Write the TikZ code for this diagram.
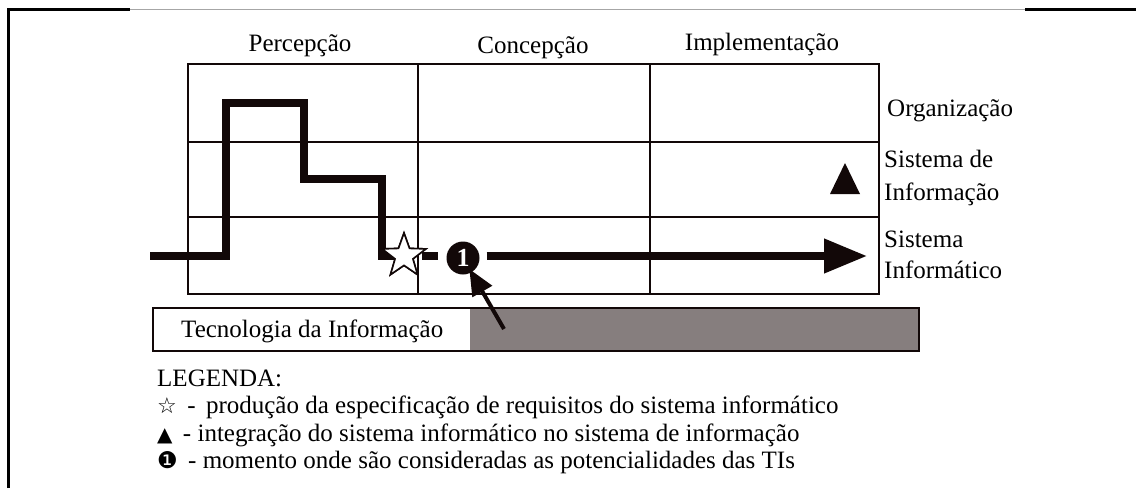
\documentclass[tikz,border=0pt]{standalone}
\usepackage{fontspec}
\setmainfont{Liberation Serif}
\newfontfamily\symfont{DejaVu Sans}
\usetikzlibrary{arrows.meta,shapes.geometric,calc}
\definecolor{tigray}{RGB}{134,126,126}
\definecolor{ink}{RGB}{18,8,8}
\begin{document}
\begin{tikzpicture}[x=1pt,y=-1pt,
  gridline/.style={draw=ink,line width=2.4pt},
  flow/.style={draw=ink,line width=7.5pt,line join=miter},
  lab/.style={font=\fontsize{25}{28}\selectfont,inner sep=0pt},
  leg/.style={font=\fontsize{25}{28}\selectfont,inner sep=0pt,anchor=base west},
  frameline/.style={draw=black,line width=3pt},
]
\useasboundingbox (0,0) rectangle (1136,488);
% outer frame
\draw[frameline] (8,488) -- (8,9.5) -- (130,9.5);
\draw[draw=black!35,line width=0.8pt] (130,9.5) -- (1025,9.5);
\draw[frameline] (1025,9.5) -- (1136,9.5);

% grid
\draw[gridline] (188,64) rectangle (879,294);
\draw[gridline] (418,64) -- (418,294);
\draw[gridline] (650,64) -- (650,294);
\draw[gridline] (188,142) -- (879,142);
\draw[gridline] (188,217) -- (879,217);

% column headings
\node[lab,anchor=base] (perc) at (300,51) {Percepção};
\node[lab,anchor=base] (conc) at (533,53) {Concepção};
\node[lab,anchor=base] (impl) at (762,50) {Implementação};

% row labels
\node[lab,anchor=base west] (org) at (887,116) {Organização};
\node[lab,anchor=base west] (si1) at (884,167) {Sistema de};
\node[lab,anchor=base west] (si2) at (884,200) {Informação};
\node[lab,anchor=base west] (sf1) at (884,247) {Sistema};
\node[lab,anchor=base west] (sf2) at (884,278) {Informático};

% technology bar
\draw[fill=tigray,draw=ink,line width=2.6pt] (153,308) rectangle (919,351);
\fill[white] (154.3,309.3) rectangle (470,349.7);
\node[lab,anchor=base west] (ti) at (181,337) {Tecnologia da Informação};

% process path
\coordinate (start) at (150,256);
\node[star,star points=5,star point ratio=2.45,draw=ink,fill=white,line width=1.6pt,
      minimum size=46pt,inner sep=0pt] (star) at (404,256) {};
\node[circle,fill=ink,minimum size=33pt,inner sep=0pt,text=white,
      font=\bfseries\fontsize{26}{26}\selectfont] (one) at (463,258) {1};
\coordinate (tipSI) at (867,256);
\coordinate (tail) at (504,329);

\draw[flow] (start) -- (226,256) -- (226,103) -- (304,103) -- (304,179)
      -- (382,179) -- (382,256) -- (404,256);
\node[star,star points=5,star point ratio=2.45,draw=ink,fill=white,line width=1.6pt,
      minimum size=46pt,inner sep=0pt] at (star) {};
\draw[flow] (star.center) ++(18,0) -- (438,256);
\draw[flow,-{Triangle[length=43pt,width=33pt]}] ($(one.east)+(7,-2)$) -- (tipSI);
\draw[draw=ink,line width=4pt,-{Triangle[length=26pt,width=22pt]},shorten >=-4pt] (tail) -- (one);

% triangle marker
\coordinate (triTop) at (845,163);
\fill[ink] (triTop) -- (860,194) -- (830,194) -- cycle;

% legend
\node[leg] (legT) at (157,386) {LEGENDA:};
\node[leg] (leg1) at (157,413) {{\symfont\fontsize{22}{16}\selectfont ☆}\, -\,  produção da especificação de requisitos do sistema informático};
\node[leg] (leg2) at (157,441) {{\symfont\fontsize{20}{16}\selectfont ▲}\, - integração do sistema informático no sistema de informação};
\node[leg] (leg3) at (157,468) {{\symfont\fontsize{23}{16}\selectfont ❶}\, - momento onde são consideradas as potencialidades das TIs};
\end{tikzpicture}
\end{document}
